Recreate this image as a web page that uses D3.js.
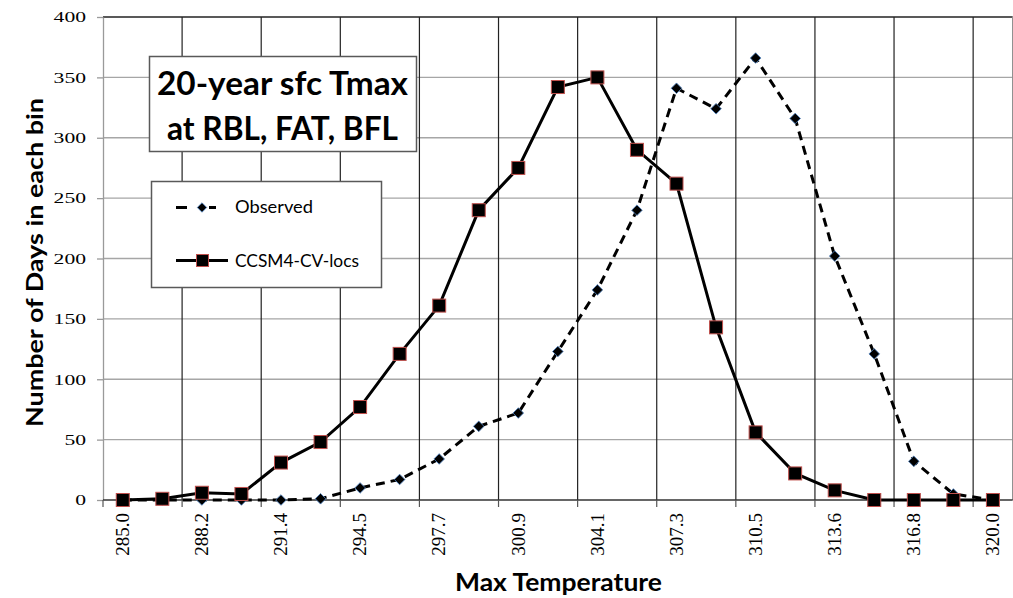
<!DOCTYPE html>
<html>
<head>
<meta charset="utf-8">
<script src="https://cdn.jsdelivr.net/npm/d3@7"></script>
<style>
  body { margin: 0; background: #fff; }
  svg { display: block; }
</style>
</head>
<body>
<div class="chart"></div>
<script>
// bins of max temperature (K)
const categories = ["285.0", "286.6", "288.2", "289.8", "291.4", "293.0", "294.5", "296.1",
  "297.7", "299.3", "300.9", "302.5", "304.1", "305.7", "307.3", "308.9", "310.5", "312.0",
  "313.6", "315.2", "316.8", "318.4", "320.0"];

// days per bin
const observed = [0, 0, 0, 0, 0, 1, 10, 17, 34, 61, 72, 123, 174, 240, 341, 324, 366, 316, 202, 121, 32, 5, 0];
const ccsm4 = [0, 1, 6, 5, 31, 48, 77, 121, 161, 240, 275, 342, 350, 290, 262, 143, 56, 22, 8, 0, 0, 0, 0];

const yTicks = [0, 50, 100, 150, 200, 250, 300, 350, 400];
const titleLines = ["20-year sfc Tmax", "at RBL, FAT, BFL"];
const seriesNames = ["Observed", "CCSM4-CV-locs"];

let svgWidth = 1013;
let svgHeight = 598;

let margin = { top: 17, right: 0.3, bottom: 98, left: 103 };

let width = svgWidth - margin.left - margin.right;
let height = svgHeight - margin.top - margin.bottom;

var svg = d3.select(".chart")
  .append("svg")
  .attr("width", svgWidth)
  .attr("height", svgHeight);

svg.append("rect").attr("width", svgWidth).attr("height", svgHeight).attr("fill", "#fff");

var chartGroup = svg.append("g")
  .attr("transform", `translate(${margin.left}, ${margin.top})`);

// scales
let x = d3.scaleBand().domain(categories).range([0, width]).padding(0);
let y = d3.scaleLinear().domain([0, 400]).range([height, 0]);
let bw = x.bandwidth();
let cx = (d, i) => x(categories[i]) + bw / 2;

let labelled = categories.filter((c, i) => i % 2 === 0);

// horizontal gridlines
chartGroup.append("g")
  .selectAll("line")
  .data(yTicks.filter(t => t > 0))
  .enter()
  .append("line")
  .attr("x1", 0)
  .attr("x2", width)
  .attr("y1", d => y(d))
  .attr("y2", d => y(d))
  .attr("stroke", d => d === 400 ? "#222" : "#a6a6a6")
  .attr("stroke-width", 1.3);

// vertical gridlines at every second bin boundary
chartGroup.append("g")
  .selectAll("line")
  .data(labelled.slice(1))
  .enter()
  .append("line")
  .attr("x1", d => x(d))
  .attr("x2", d => x(d))
  .attr("y1", 0)
  .attr("y2", height)
  .attr("stroke", "#222")
  .attr("stroke-width", 1.2);

// right border
chartGroup.append("line")
  .attr("x1", width).attr("x2", width)
  .attr("y1", 0).attr("y2", height)
  .attr("stroke", "#8c8c8c").attr("stroke-width", 1.3);

// y axis
let leftAxis = d3.axisLeft(y).tickValues(yTicks).tickSize(6).tickPadding(11).tickSizeOuter(0);
let yAxis = chartGroup.append("g").call(leftAxis);
yAxis.select(".domain").attr("stroke", "#9a9a9a").attr("stroke-width", 1.3);
yAxis.selectAll(".tick line").attr("stroke", "#9a9a9a").attr("stroke-width", 1.3);
yAxis.selectAll("text")
  .attr("font-family", "'Liberation Serif', 'Times New Roman', serif")
  .attr("font-size", 15)
  .attr("fill", "#000")
  .attr("textLength", d => String(d).length * 10.8)
  .attr("lengthAdjust", "spacingAndGlyphs");

// x axis line and ticks at bin boundaries
let xAxisGroup = chartGroup.append("g").attr("transform", `translate(0, ${height})`);
xAxisGroup.append("line")
  .attr("x1", 0).attr("x2", width)
  .attr("stroke", "#333").attr("stroke-width", 1.3);
xAxisGroup.selectAll(".xtick")
  .data(labelled)
  .enter()
  .append("line")
  .attr("class", "xtick")
  .attr("x1", d => x(d)).attr("x2", d => x(d))
  .attr("y1", 0).attr("y2", 7)
  .attr("stroke", "#555").attr("stroke-width", 1.2);

// x tick labels, every second bin, rotated
let bottomAxis = d3.axisBottom(x).tickValues(labelled).tickSize(0).tickSizeOuter(0);
let xAxis = xAxisGroup.append("g").call(bottomAxis);
xAxis.select(".domain").remove();
xAxis.selectAll("text")
  .attr("transform", "rotate(-90)")
  .attr("x", -13)
  .attr("y", 0)
  .attr("dy", "0.33em")
  .attr("text-anchor", "end")
  .attr("font-family", "'Liberation Serif', 'Times New Roman', serif")
  .attr("font-size", 19)
  .attr("fill", "#000");

// series lines
let line = d3.line()
  .x((d, i) => cx(d, i))
  .y(d => y(d));

chartGroup.append("path")
  .datum(observed)
  .attr("d", line)
  .attr("fill", "none")
  .attr("stroke", "#000")
  .attr("stroke-width", 3)
  .attr("stroke-dasharray", "9,6");

let diamond = d3.symbol().type(d3.symbolSquare).size(56);
chartGroup.append("g")
  .selectAll("path")
  .data(observed)
  .enter()
  .append("path")
  .attr("d", diamond)
  .attr("transform", (d, i) => `translate(${cx(d, i)}, ${y(d)}) rotate(45)`)
  .attr("fill", "#000")
  .attr("stroke", "#4f81bd")
  .attr("stroke-width", 0.8);

chartGroup.append("path")
  .datum(ccsm4)
  .attr("d", line)
  .attr("fill", "none")
  .attr("stroke", "#000")
  .attr("stroke-width", 3);

chartGroup.append("g")
  .selectAll("rect")
  .data(ccsm4)
  .enter()
  .append("rect")
  .attr("x", (d, i) => cx(d, i) - 6.5)
  .attr("y", d => y(d) - 6.5)
  .attr("width", 13)
  .attr("height", 13)
  .attr("fill", "#000")
  .attr("stroke", "#c0504d")
  .attr("stroke-width", 1);

// title box
svg.append("rect")
  .attr("x", 149.5).attr("y", 56.5)
  .attr("width", 267).attr("height", 95)
  .attr("fill", "#fff").attr("stroke", "#595959").attr("stroke-width", 1.5);

svg.append("g")
  .selectAll("text")
  .data(titleLines)
  .enter()
  .append("text")
  .attr("x", (d, i) => i === 0 ? 157 : 167)
  .attr("y", (d, i) => 95 + i * 45)
  .attr("font-family", "Lato, 'Open Sans', sans-serif")
  .attr("font-weight", "bold")
  .attr("font-size", 32)
  .attr("textLength", (d, i) => i === 0 ? 251 : 231)
  .attr("lengthAdjust", "spacingAndGlyphs")
  .attr("fill", "#000")
  .text(d => d);

// legend box
svg.append("rect")
  .attr("x", 151.5).attr("y", 181.5)
  .attr("width", 230).attr("height", 106)
  .attr("fill", "#fff").attr("stroke", "#595959").attr("stroke-width", 1.5);

let legend = svg.append("g");
legend.append("line")
  .attr("x1", 176).attr("x2", 228)
  .attr("y1", 207.5).attr("y2", 207.5)
  .attr("stroke", "#000").attr("stroke-width", 3)
  .attr("stroke-dasharray", "11,22,7,100");
legend.append("path")
  .attr("d", d3.symbol().type(d3.symbolSquare).size(44))
  .attr("transform", "translate(202, 207.5) rotate(45)")
  .attr("fill", "#000").attr("stroke", "#4f81bd").attr("stroke-width", 0.8);
legend.append("line")
  .attr("x1", 176).attr("x2", 228)
  .attr("y1", 260.5).attr("y2", 260.5)
  .attr("stroke", "#000").attr("stroke-width", 3);
legend.append("rect")
  .attr("x", 196.5).attr("y", 254.5)
  .attr("width", 12).attr("height", 12)
  .attr("fill", "#000").attr("stroke", "#c0504d").attr("stroke-width", 1);
legend.selectAll("text")
  .data(seriesNames)
  .enter()
  .append("text")
  .attr("x", 235)
  .attr("y", (d, i) => 213 + i * 53.5)
  .attr("font-family", "Lato, 'Open Sans', sans-serif")
  .attr("font-size", 16.5)
  .attr("textLength", (d, i) => i === 0 ? 78 : 124)
  .attr("lengthAdjust", "spacingAndGlyphs")
  .attr("fill", "#000")
  .text(d => d);

// axis titles
svg.append("text")
  .attr("x", 558.5)
  .attr("y", 591)
  .attr("text-anchor", "middle")
  .attr("font-family", "Lato, 'Open Sans', sans-serif")
  .attr("font-weight", "bold")
  .attr("font-size", 25)
  .attr("textLength", 207)
  .attr("lengthAdjust", "spacingAndGlyphs")
  .attr("fill", "#000")
  .text("Max Temperature");

svg.append("text")
  .attr("transform", "translate(43, 262.5) rotate(-90)")
  .attr("text-anchor", "middle")
  .attr("font-family", "Lato, 'Open Sans', sans-serif")
  .attr("font-weight", "bold")
  .attr("font-size", 23)
  .attr("textLength", 329)
  .attr("lengthAdjust", "spacingAndGlyphs")
  .attr("fill", "#000")
  .text("Number of Days in each bin");
</script>
</body>
</html>
